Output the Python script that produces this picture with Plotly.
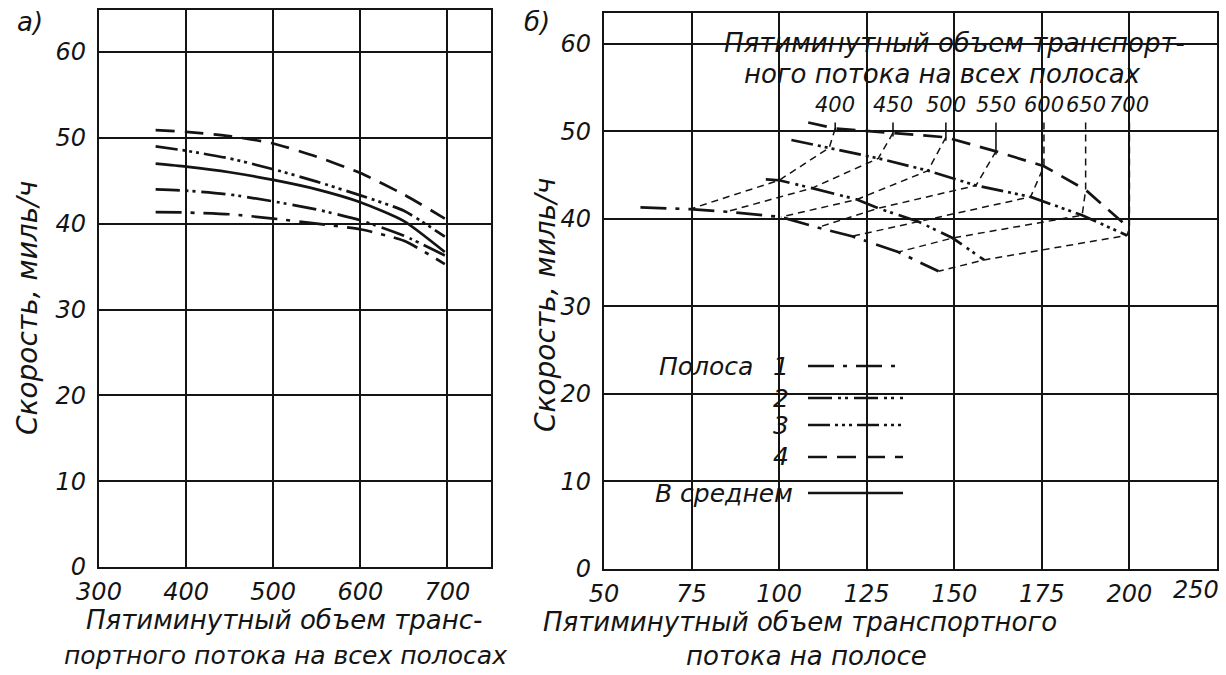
import plotly.graph_objects as go

W, H = 1226, 675
FONT = "DejaVu Sans, Liberation Sans, sans-serif"
INK = "#141414"

# ---------------- Panel a): speed vs total 5-min volume (all lanes) ----------------
total_volume = [365, 400, 450, 500, 550, 600, 650, 697]
speed_lane4 = [50.9, 50.7, 50.2, 49.35, 47.8, 45.9, 43.4, 40.6]
speed_lane3 = [49.0, 48.5, 47.6, 46.35, 44.9, 43.3, 41.5, 38.5]
speed_avg = [47.0, 46.65, 46.0, 45.1, 44.0, 42.5, 40.3, 36.7]
speed_lane2 = [44.0, 43.85, 43.4, 42.6, 41.65, 40.4, 38.6, 36.3]
speed_lane1 = [41.35, 41.3, 41.1, 40.6, 40.0, 39.35, 38.0, 35.3]

x_ticks_a = [300, 400, 500, 600, 700]
y_ticks = [0, 10, 20, 30, 40, 50, 60]

# ---------------- Panel б): speed vs 5-min volume per lane ----------------
# points at total volume 365 (start), 400, 450, 500, 550, 600, 650, 700
iso_totals = [400, 450, 500, 550, 600, 650, 700]
lane4_vol = [108.3, 116.0, 132.5, 147.6, 161.9, 175.6, 187.5, 200.0]
lane4_spd = [51.0, 50.3, 49.8, 49.3, 47.7, 46.0, 43.3, 38.9]
lane3_vol = [103.5, 114.3, 128.3, 142.5, 156.2, 171.8, 186.5, 199.3]
lane3_spd = [49.0, 48.1, 46.9, 45.5, 43.8, 42.5, 40.4, 38.1]
lane2_vol = [96.2, 100.0, 109.4, 122.2, 128.3, 139.6, 149.5, 158.5]
lane2_spd = [44.5, 44.4, 43.5, 42.2, 41.2, 39.7, 37.8, 35.3]
lane1_vol = [60.4, 74.5, 85.0, 100.5, 111.0, 120.8, 134.0, 145.5]
lane1_spd = [41.3, 41.1, 40.8, 40.2, 39.0, 38.0, 36.2, 34.0]

x_ticks_b = [50, 75, 100, 125, 150, 175, 200]
x_ticklabels_b = ["50", "75", "100", "125", "150", "175", "200", "250"]

legend_labels = ["1", "2", "3", "4", "В среднем"]

# ---------------- styles ----------------
DASH = {
    "1": "26px,9px,4px,9px",
    "2": "24px,6px,3px,4px,3px,6px",
    "3": "22px,5px,3px,4px,3px,4px,3px,5px",
    "4": "19px,10px",
    "avg": "solid",
}
LW = 2.7

def px(x):
    return x / W

def py(y):
    return 1 - y / H

dom_a_x = [px(99), px(491)]
dom_a_y = [py(567), py(10)]
dom_b_x = [px(604), px(1217)]
dom_b_y = [py(569), py(13)]

fig = go.Figure()

def curve(x, y, dash, ax, ay, shape="spline"):
    fig.add_trace(go.Scatter(
        x=x, y=y, mode="lines", xaxis=ax, yaxis=ay,
        line=dict(color=INK, width=LW, dash=dash, shape=shape, smoothing=0.6),
        showlegend=False, hoverinfo="skip"))

# panel a curves
curve(total_volume, speed_lane4, DASH["4"], "x", "y")
curve(total_volume, speed_lane3, DASH["3"], "x", "y")
curve(total_volume, speed_avg, DASH["avg"], "x", "y")
curve(total_volume, speed_lane2, DASH["2"], "x", "y")
curve(total_volume, speed_lane1, DASH["1"], "x", "y")

# panel b: isolines of equal total volume (thin dashed), with ticks up to labels
TICK_TOP = 51.0
for i, T in enumerate(iso_totals):
    j = i + 1
    xs = [lane4_vol[j], lane3_vol[j], lane2_vol[j], lane1_vol[j]]
    ys = [lane4_spd[j], lane3_spd[j], lane2_spd[j], lane1_spd[j]]
    long_tick = (TICK_TOP - lane4_spd[j]) > 4
    if long_tick:
        xs = [lane4_vol[j]] + xs
        ys = [TICK_TOP] + ys
    else:
        fig.add_trace(go.Scatter(
            x=[lane4_vol[j], lane4_vol[j]], y=[TICK_TOP, lane4_spd[j] - 0.4],
            mode="lines", xaxis="x2", yaxis="y2",
            line=dict(color=INK, width=1.6), showlegend=False, hoverinfo="skip"))
    fig.add_trace(go.Scatter(
        x=xs, y=ys, mode="lines", xaxis="x2", yaxis="y2",
        line=dict(color=INK, width=1.5, dash="7px,5px"),
        showlegend=False, hoverinfo="skip"))

curve(lane4_vol, lane4_spd, DASH["4"], "x2", "y2", "linear")
curve(lane3_vol, lane3_spd, DASH["3"], "x2", "y2", "linear")
curve(lane2_vol, lane2_spd, DASH["2"], "x2", "y2", "linear")
curve(lane1_vol, lane1_spd, DASH["1"], "x2", "y2", "linear")

tickfont = dict(family=FONT, size=24, color=INK, style="italic")
axis_common = dict(
    showgrid=True, gridcolor=INK, gridwidth=1.7,
    showline=True, linecolor=INK, linewidth=2.2, mirror=True,
    zeroline=False, ticks="", tickfont=tickfont, fixedrange=True,
    automargin=False,
)

fig.update_layout(
    width=W, height=H,
    margin=dict(l=0, r=0, t=0, b=0, autoexpand=False),
    paper_bgcolor="white", plot_bgcolor="white",
    showlegend=False,
    xaxis=dict(domain=dom_a_x, range=[300, 750], tickvals=x_ticks_a,
               ticktext=[str(v) for v in x_ticks_a], anchor="y",
               ticklabelstandoff=2, **axis_common),
    yaxis=dict(domain=dom_a_y, range=[0, 64.9], tickvals=y_ticks,
               ticktext=[str(v) for v in y_ticks], anchor="x",
               ticklabelstandoff=6, **axis_common),
    xaxis2=dict(domain=dom_b_x, range=[50, 225], tickvals=x_ticks_b,
                ticktext=x_ticklabels_b[:len(x_ticks_b)], anchor="y2",
                ticklabelstandoff=2, **axis_common),
    yaxis2=dict(domain=dom_b_y, range=[0, 63.5], tickvals=y_ticks,
                ticktext=[str(v) for v in y_ticks], anchor="x2",
                ticklabelstandoff=6, **axis_common),
)

# white areas in panel б that interrupt the grid (header text and legend)
shapes = []
for (x0, y0, x1, y1) in [(697, 16, 1209, 108), (800, 107, 1172, 131), (643, 335, 915, 532)]:
    shapes.append(dict(type="rect", xref="paper", yref="paper",
                       x0=px(x0), x1=px(x1), y0=py(y1), y1=py(y0),
                       fillcolor="white", line=dict(width=0), layer="between"))

# legend sample lines
leg_y = [366, 398, 425, 457, 493]
leg_dash = [DASH["1"], DASH["2"], DASH["3"], DASH["4"], DASH["avg"]]
for yy, dd in zip(leg_y, leg_dash):
    shapes.append(dict(type="line", xref="paper", yref="paper",
                       x0=px(808), x1=px(903), y0=py(yy), y1=py(yy),
                       line=dict(color=INK, width=LW, dash=dd), layer="above"))
fig.update_layout(shapes=shapes)

def ann(text, x, y, size=24, xanchor="center", textangle=0, xref="paper", yref="paper"):
    return dict(text=text, x=x, y=y, xref=xref, yref=yref, showarrow=False,
                xanchor=xanchor, yanchor="middle", textangle=textangle,
                font=dict(family=FONT, size=size, color=INK, style="italic"))

anns = []
anns.append(ann("а)", px(30), py(22), 26))
anns.append(ann("б)", px(537), py(22), 26))
anns.append(ann("Скорость, миль/ч", px(27), py(308), 28, textangle=-90))
anns.append(ann("Скорость, миль/ч", px(545), py(305), 28, textangle=-90))
anns.append(ann("Пятиминутный объем транс-", px(284), py(620), 26))
anns.append(ann("портного потока на всех полосах", px(285), py(655), 25))
anns.append(ann("Пятиминутный объем транспортного", px(800), py(622), 26))
anns.append(ann("потока на полосе", px(806), py(656), 26))
anns.append(ann("Пятиминутный объем транспорт-", px(955), py(43), 26))
anns.append(ann("ного потока на всех полосах", px(942), py(74), 26))
# last x tick label of panel б (placed inside the page edge)
anns.append(ann(x_ticklabels_b[-1], px(1196), py(590), 24))
# isoline labels
for i, T in enumerate(iso_totals):
    anns.append(ann(str(T), lane4_vol[i + 1], 53.0, 21, xref="x2", yref="y2"))
# legend texts
anns.append(ann("Полоса", px(706), py(366), 25))
for lab, yy in zip(legend_labels[:4], leg_y[:4]):
    anns.append(ann(lab, px(781), py(yy), 25))
anns.append(ann(legend_labels[4], px(724), py(493), 25))
fig.update_layout(annotations=anns)

fig.write_html("out.html", config={"displayModeBar": False},
               post_script="document.body.style.margin='0px';")
